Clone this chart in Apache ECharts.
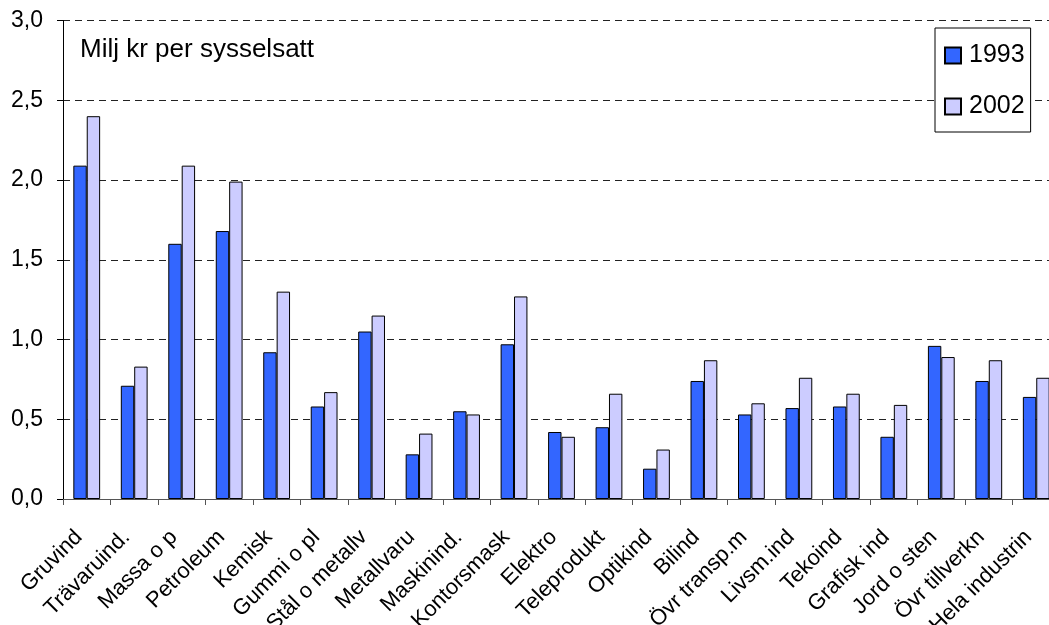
<!DOCTYPE html>
<html>
<head>
<meta charset="utf-8">
<style>
  html, body { margin: 0; padding: 0; background: #fff; }
  #chart { width: 1049px; height: 625px; }
</style>
<script src="https://cdn.jsdelivr.net/npm/echarts@6/dist/echarts.min.js"></script>
</head>
<body>
<div id="chart"></div>
<script>
// Förädlingsvärde per sysselsatt, miljoner kronor, per bransch
const categories = [
  'Gruvind', 'Trävaruind.', 'Massa o p', 'Petroleum', 'Kemisk', 'Gummi o pl',
  'Stål o metallv', 'Metallvaru', 'Maskinind.', 'Kontorsmask', 'Elektro',
  'Teleprodukt', 'Optikind', 'Bilind', 'Övr transp.m', 'Livsm.ind', 'Tekoind',
  'Grafisk ind', 'Jord o sten', 'Övr tillverkn', 'Hela industrin'
];
const values1993 = [
  2.09, 0.71, 1.60, 1.68, 0.92, 0.58,
  1.05, 0.28, 0.55, 0.97, 0.42,
  0.45, 0.19, 0.74, 0.53, 0.57, 0.58,
  0.39, 0.96, 0.74, 0.64
];
const values2002 = [
  2.40, 0.83, 2.09, 1.99, 1.30, 0.67,
  1.15, 0.41, 0.53, 1.27, 0.39,
  0.66, 0.31, 0.87, 0.60, 0.76, 0.66,
  0.59, 0.89, 0.87, 0.76
];
const seriesNames = ['1993', '2002'];
const yTicks = { min: 0, max: 3, interval: 0.5 };

const FONT = 'Arial, "Liberation Sans", sans-serif';
const chart = echarts.init(document.getElementById('chart'), null, { renderer: 'canvas' });

chart.setOption({
  animation: false,
  backgroundColor: '#ffffff',
  title: {
    text: 'Milj kr per sysselsatt',
    left: 80,
    top: 37,
    padding: 0,
    textStyle: { fontFamily: FONT, fontSize: 26, fontWeight: 'normal', color: '#000' }
  },
  legend: {
    orient: 'vertical',
    left: 935,
    top: 28,
    padding: [15, 6, 13, 9],
    itemWidth: 16,
    itemHeight: 16,
    itemGap: 26,
    icon: 'rect',
    backgroundColor: '#ffffff',
    borderColor: '#000',
    borderWidth: 1,
    textStyle: { fontFamily: FONT, fontSize: 25, color: '#000', padding: [0, 0, 0, 3] },
    data: seriesNames
  },
  grid: {
    left: 63, top: 20.5, bottom: 126, right: -11,
    containLabel: false,
    outerBoundsMode: 'none'
  },
  xAxis: {
    type: 'category',
    data: categories,
    axisLine: { show: true, lineStyle: { color: '#555', width: 1 } },
    axisTick: { show: true, length: 6, lineStyle: { color: '#555' }, alignWithLabel: false },
    axisLabel: {
      interval: 0,
      rotate: 45,
      margin: 27,
      padding: [0, 11, 0, 0],
      fontFamily: FONT,
      fontSize: 22,
      color: '#000'
    },
    splitLine: { show: false }
  },
  yAxis: {
    type: 'value',
    min: yTicks.min,
    max: yTicks.max,
    interval: yTicks.interval,
    axisLine: { show: true, lineStyle: { color: '#000', width: 1 } },
    axisTick: { show: true, length: 6, lineStyle: { color: '#000' } },
    axisLabel: {
      margin: 20,
      fontFamily: FONT,
      fontSize: 23,
      color: '#000',
      formatter: v => v.toFixed(1).replace('.', ',')
    },
    splitLine: { show: true, lineStyle: { color: '#222', width: 1, type: [7, 5] } }
  },
  series: [
    {
      name: seriesNames[0],
      type: 'bar',
      data: values1993,
      barWidth: 13.4,
      barGap: '0%',
      itemStyle: { color: '#3366ff', borderColor: '#000', borderWidth: 1 }
    },
    {
      name: seriesNames[1],
      type: 'bar',
      data: values2002,
      barWidth: 13.4,
      barGap: '0%',
      itemStyle: { color: '#ccccff', borderColor: '#000', borderWidth: 1 }
    }
  ]
});
</script>
</body>
</html>
